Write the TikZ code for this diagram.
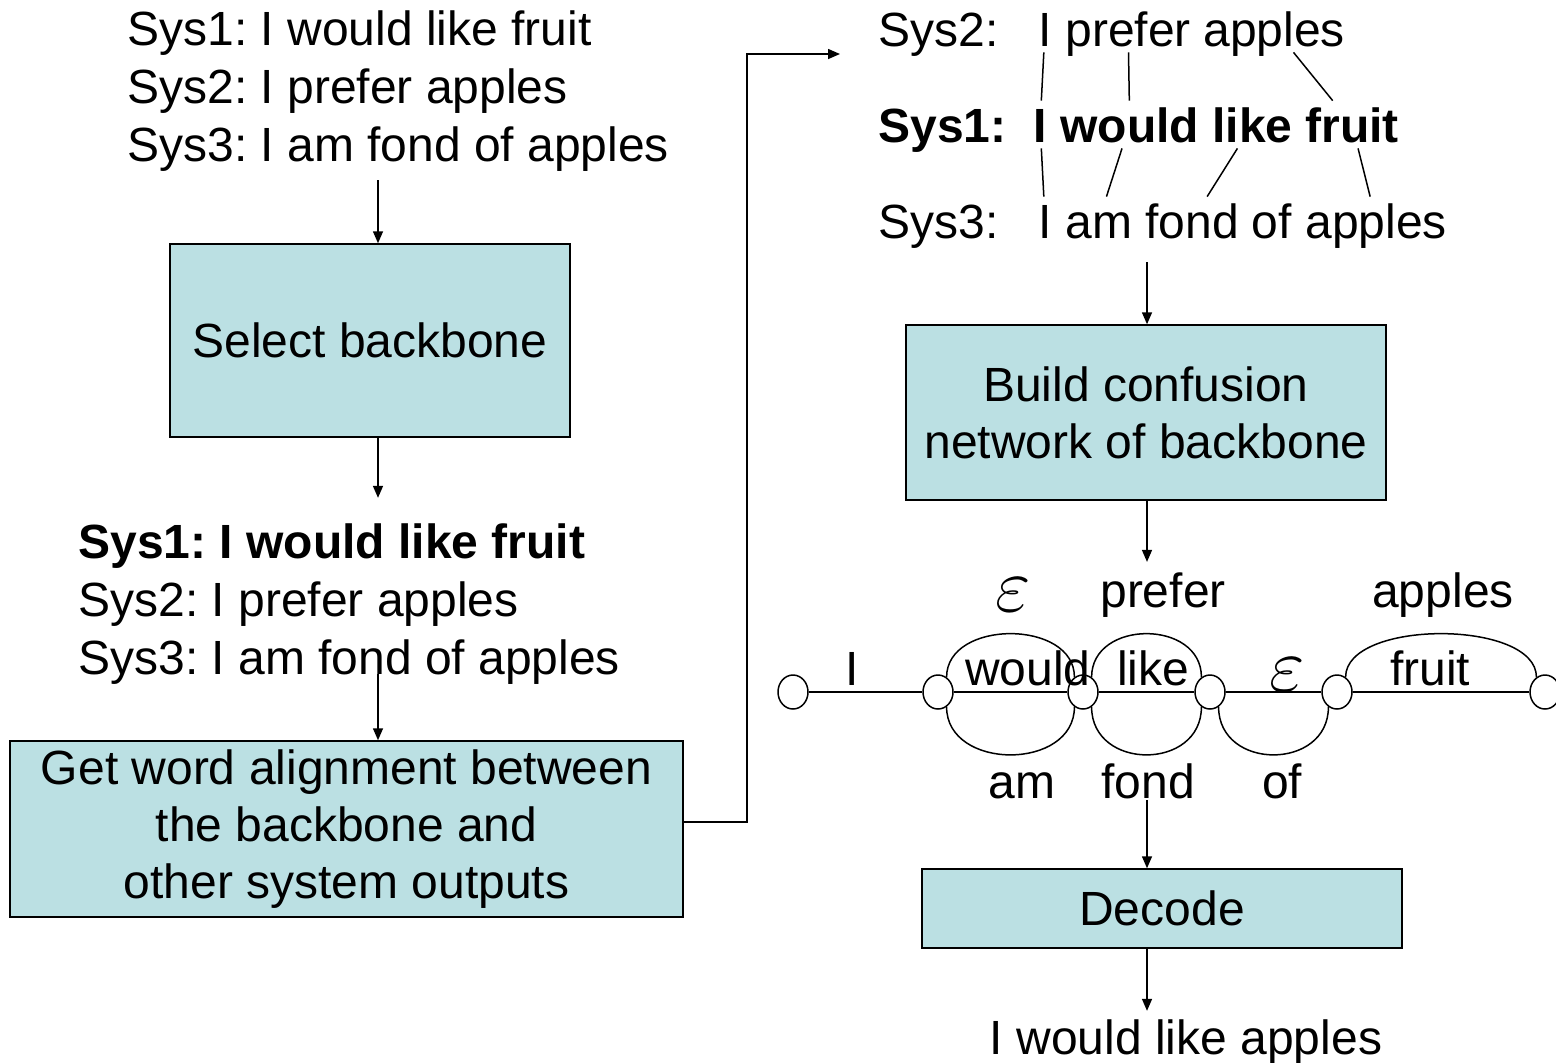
\documentclass[tikz,border=0pt]{standalone}
\usepackage{fontspec}
\setmainfont{Liberation Sans}
\usetikzlibrary{arrows.meta,shapes.geometric}
\definecolor{boxteal}{RGB}{187,224,227}
\frenchspacing

\begin{document}
\begin{tikzpicture}[
    x=0.5pt, y=-0.5pt,
    txt/.style={inner sep=0pt, anchor=base west, font=\fontsize{24}{28.5}\selectfont},
    word/.style={inner xsep=0pt, inner ysep=3pt, anchor=base west, text height=17.5pt, text depth=0pt, font=\fontsize{24}{28.5}\selectfont},
    lbl/.style={inner sep=0pt, anchor=base, font=\fontsize{24}{28.5}\selectfont},
    eps/.style={inner sep=0pt, anchor=base, font=\fontsize{24}{28.5}\selectfont},
    stage/.style={draw, fill=boxteal, line width=0.75pt, align=center, inner sep=0pt, font=\fontsize{24}{28.5}\selectfont},
    cn/.style={draw, ellipse, fill=white, minimum width=15pt, minimum height=17pt, inner sep=0pt, line width=0.75pt},
    arr/.style={-{Triangle[length=6pt,width=5pt]}, line width=0.75pt},
    link/.style={line width=0.75pt}
]
\useasboundingbox (0,0) rectangle (1556,1062);
\coordinate (trunk) at (378,0);
\coordinate (rtrunk) at (1147,0);
\coordinate (entry) at (840,54);

\node[txt] (l1) at (127,45) {Sys1: I would like fruit};
\node[txt] (l2) at (127,103) {Sys2: I prefer apples};
\node[txt] (l3) at (127,161) {Sys3: I am fond of apples};
\node[stage, minimum width=200pt, minimum height=96.5pt] (sel) at (370,340.5) {Select backbone};
\node[txt, font=\fontsize{24}{28.5}\selectfont\bfseries] (b1) at (78,558) {Sys1: I would like fruit};
\node[txt] (b2) at (78,616) {Sys2: I prefer apples};
\node[txt] (b3) at (78,674) {Sys3: I am fond of apples};
\node[stage, minimum width=336.5pt, minimum height=88pt] (gwa) at (346.5,829) {Get word alignment between\\the backbone and\\other system outputs};

\draw[arr, shorten <=4.5pt] (trunk |- l3.south) -- (trunk |- sel.north);
\draw[arr, shorten >=12.5pt] (trunk |- sel.south) -- (trunk |- b1.north);
\draw[arr] (trunk |- b3.base) -- (trunk |- gwa.north);
\draw[arr] ([yshift=3.5pt]gwa.east) -- ++(63,0) |- (entry);

\node[word] (s2) at (878,46) {Sys2:};
\node[word] (s2-i) at (1038,46) {I};
\node[word] (s2-prefer) at (1065,46) {prefer};
\node[word] (s2-apples) at (1203,46) {apples};
\node[word, font=\fontsize{24}{28.5}\selectfont\bfseries] (s1) at (878,142) {Sys1:};
\node[word, font=\fontsize{24}{28.5}\selectfont\bfseries] (s1-i) at (1033,142) {I};
\node[word, font=\fontsize{24}{28.5}\selectfont\bfseries] (s1-would) at (1060,142) {would};
\node[word, font=\fontsize{24}{28.5}\selectfont\bfseries] (s1-like) at (1212,142) {like};
\node[word, font=\fontsize{24}{28.5}\selectfont\bfseries] (s1-fruit) at (1305,142) {fruit};
\node[word] (s3) at (878,238) {Sys3:};
\node[word] (s3-i) at (1038,238) {I};
\node[word] (s3-am) at (1065,238) {am};
\node[word] (s3-fond) at (1145,238) {fond};
\node[word] (s3-of) at (1251,238) {of};
\node[word] (s3-apples) at (1305,238) {apples};

\draw[link] (s2-i) -- (s1-i);
\draw[link] (s2-prefer) -- (s1-would);
\draw[link] (s2-apples) -- (s1-fruit);
\draw[link] (s1-i) -- (s3-i);
\draw[link] (s1-would) -- (s3-am);
\draw[link] (s1-like) -- (s3-fond);
\draw[link] (s1-fruit) -- (s3-apples);

\node[stage, minimum width=240pt, minimum height=87.5pt] (build) at (1146,412.5) {Build confusion\\network of backbone};
\draw[arr, shorten <=9pt] (rtrunk |- s3-fond.south) -- (rtrunk |- build.north);

\node[cn] (c1) at (793,692) {};
\node[cn] (c2) at (938,692) {};
\node[cn] (c3) at (1083,692) {};
\node[cn] (c4) at (1210,692) {};
\node[cn] (c5) at (1337,692) {};
\node[cn] (c6) at (1545,692) {};
\draw[link] (c1) -- (c2) -- (c3) -- (c4) -- (c5) -- (c6);
\draw[link] (c2.60) .. controls +(0,-58) and +(0,-58) .. (c3.120);
\draw[link] (c3.60) .. controls +(0,-58) and +(0,-58) .. (c4.120);
\draw[link] (c5.60) .. controls +(0,-58) and +(0,-58) .. (c6.120);
\draw[link] (c2.-60) .. controls +(0,64) and +(0,64) .. (c3.-120);
\draw[link] (c3.-60) .. controls +(0,64) and +(0,64) .. (c4.-120);
\draw[link] (c4.-60) .. controls +(0,64) and +(0,64) .. (c5.-120);

\node[lbl] (n-i) at (852,685) {I};
\node[eps] (e1) at (1013,611) {\scalebox{1.55}{$\varepsilon$}};
\node[lbl] (n-would) at (1028,685) {would};
\node[lbl] (n-prefer) at (1163,607) {prefer};
\node[lbl] (n-like) at (1153,685) {like};
\node[eps] (e2) at (1287,691) {\scalebox{1.55}{$\varepsilon$}};
\node[lbl] (n-apples) at (1443,607) {apples};
\node[lbl] (n-fruit) at (1430,685) {fruit};
\node[lbl] (n-am) at (1022,798) {am};
\node[lbl] (n-fond) at (1148,798) {fond};
\node[lbl] (n-of) at (1282,798) {of};

\draw[arr, shorten >=5pt] (rtrunk |- build.south) -- (rtrunk |- n-prefer.north);

\node[stage, minimum width=240pt, minimum height=39.5pt] (dec) at (1162,908.5) {Decode};
\node[lbl] (out) at (1186,1054) {I would like apples};

\draw[arr, shorten <=1pt] (rtrunk |- n-fond.base) -- (rtrunk |- dec.north);
\draw[arr, shorten >=4pt] (rtrunk |- dec.south) -- (rtrunk |- out.north);
\end{tikzpicture}
\end{document}
